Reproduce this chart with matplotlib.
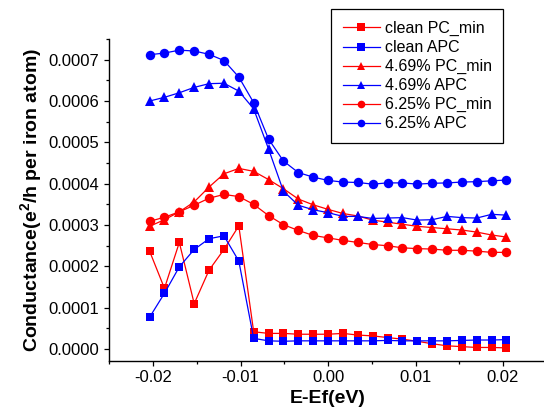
import numpy as np
import matplotlib
matplotlib.use('Agg')
import matplotlib.pyplot as plt
from matplotlib.ticker import MultipleLocator, FormatStrFormatter

plt.rcParams['font.family'] = ['Liberation Sans', 'DejaVu Sans']
plt.rcParams['mathtext.fontset'] = 'custom'
plt.rcParams['mathtext.rm'] = 'Liberation Sans'
plt.rcParams['mathtext.bf'] = 'Liberation Sans:bold'

# energy grid (eV)
energy = [-0.0204, -0.0187, -0.0170, -0.0153, -0.0136, -0.0119, -0.0102, -0.0085,
          -0.0068, -0.0051, -0.0034, -0.0017, 0.0, 0.0017, 0.0034, 0.0051,
          0.0068, 0.0085, 0.0102, 0.0119, 0.0136, 0.0153, 0.0170, 0.0187, 0.0204]

# conductance values, in units of 1e-4 e^2/h
clean_pc = [2.37, 1.47, 2.58, 1.10, 1.91, 2.41, 2.98, 0.42, 0.38, 0.38, 0.36, 0.36, 0.36,
            0.38, 0.34, 0.32, 0.28, 0.24, 0.19, 0.13, 0.08, 0.06, 0.04, 0.04, 0.03]
clean_apc = [0.77, 1.35, 1.99, 2.41, 2.67, 2.74, 2.13, 0.26, 0.20, 0.19, 0.20, 0.20, 0.20,
             0.20, 0.20, 0.20, 0.21, 0.20, 0.20, 0.20, 0.20, 0.21, 0.22, 0.22, 0.23]
pc_469 = [2.97, 3.13, 3.32, 3.56, 3.92, 4.24, 4.37, 4.30, 4.10, 3.88, 3.63, 3.49, 3.38,
          3.28, 3.22, 3.12, 3.07, 3.02, 2.97, 2.94, 2.91, 2.88, 2.83, 2.76, 2.71]
apc_469 = [6.00, 6.09, 6.20, 6.33, 6.42, 6.43, 6.24, 5.81, 4.84, 3.82, 3.48, 3.37, 3.30,
           3.21, 3.21, 3.16, 3.17, 3.18, 3.12, 3.13, 3.21, 3.18, 3.17, 3.26, 3.24]
pc_625 = [3.09, 3.19, 3.32, 3.48, 3.65, 3.74, 3.69, 3.50, 3.23, 3.01, 2.87, 2.75, 2.69,
          2.63, 2.58, 2.53, 2.50, 2.45, 2.43, 2.42, 2.39, 2.39, 2.37, 2.34, 2.34]
apc_625 = [7.12, 7.16, 7.23, 7.21, 7.13, 6.98, 6.58, 5.96, 5.08, 4.55, 4.27, 4.16, 4.08,
           4.04, 4.03, 3.99, 4.02, 4.02, 3.99, 4.01, 4.02, 4.04, 4.05, 4.07, 4.09]

labels = ['clean PC_min', 'clean APC', '4.69% PC_min', '4.69% APC', '6.25% PC_min', '6.25% APC']
series = [clean_pc, clean_apc, pc_469, apc_469, pc_625, apc_625]
colors = ['#ff0000', '#0000ff'] * 3
markers = ['s', 's', '^', '^', 'o', 'o']
msizes = [6, 6, 7, 7, 6.8, 6.8]

fig = plt.figure(figsize=(5.44, 4.11), dpi=100)
ax = fig.add_axes([0.201, 0.1224, 0.804, 0.7827])

x = np.array(energy)
for ys, lab, c, m, ms in zip(series, labels, colors, markers, msizes):
    ax.plot(x, np.array(ys) * 1e-4, color=c, marker=m, markersize=ms, lw=0.9,
            markeredgewidth=0, label=lab)

ax.set_xlim(-0.025, 0.025)
ax.set_ylim(-0.000028, 0.00075)
ax.xaxis.set_major_locator(MultipleLocator(0.01))
ax.xaxis.set_minor_locator(MultipleLocator(0.005))
ax.yaxis.set_major_locator(MultipleLocator(0.0001))
ax.yaxis.set_minor_locator(MultipleLocator(0.00005))
ax.xaxis.set_major_formatter(FormatStrFormatter('%.2f'))
ax.yaxis.set_major_formatter(FormatStrFormatter('%.4f'))
ax.tick_params(which='major', direction='out', length=3.5, width=0.9, labelsize=12)
ax.tick_params(which='minor', direction='out', length=2.2, width=0.9)
for s in ['top', 'right']:
    ax.spines[s].set_visible(False)
for s in ['left', 'bottom']:
    ax.spines[s].set_linewidth(1.0)

ax.set_xlabel('E-Ef(eV)', fontsize=14, fontweight='bold', labelpad=3)
ax.set_ylabel(r'Conductance(e$^{\mathbf{2}}$/h per iron atom)', fontsize=14, fontweight='bold', labelpad=3)

leg = ax.legend(loc='upper left', bbox_to_anchor=(331 / 544, 1 - 9 / 411),
                bbox_transform=fig.transFigure, borderaxespad=0, fontsize=11.5,
                numpoints=1, handlelength=2.3, handletextpad=0.3, labelspacing=0.25,
                borderpad=0.75, fancybox=False, framealpha=1)
leg.get_frame().set_edgecolor('black')
leg.get_frame().set_linewidth(0.9)
for h in leg.legend_handles:
    h.set_markersize(5.5)

fig.savefig('out.png', dpi=100)
